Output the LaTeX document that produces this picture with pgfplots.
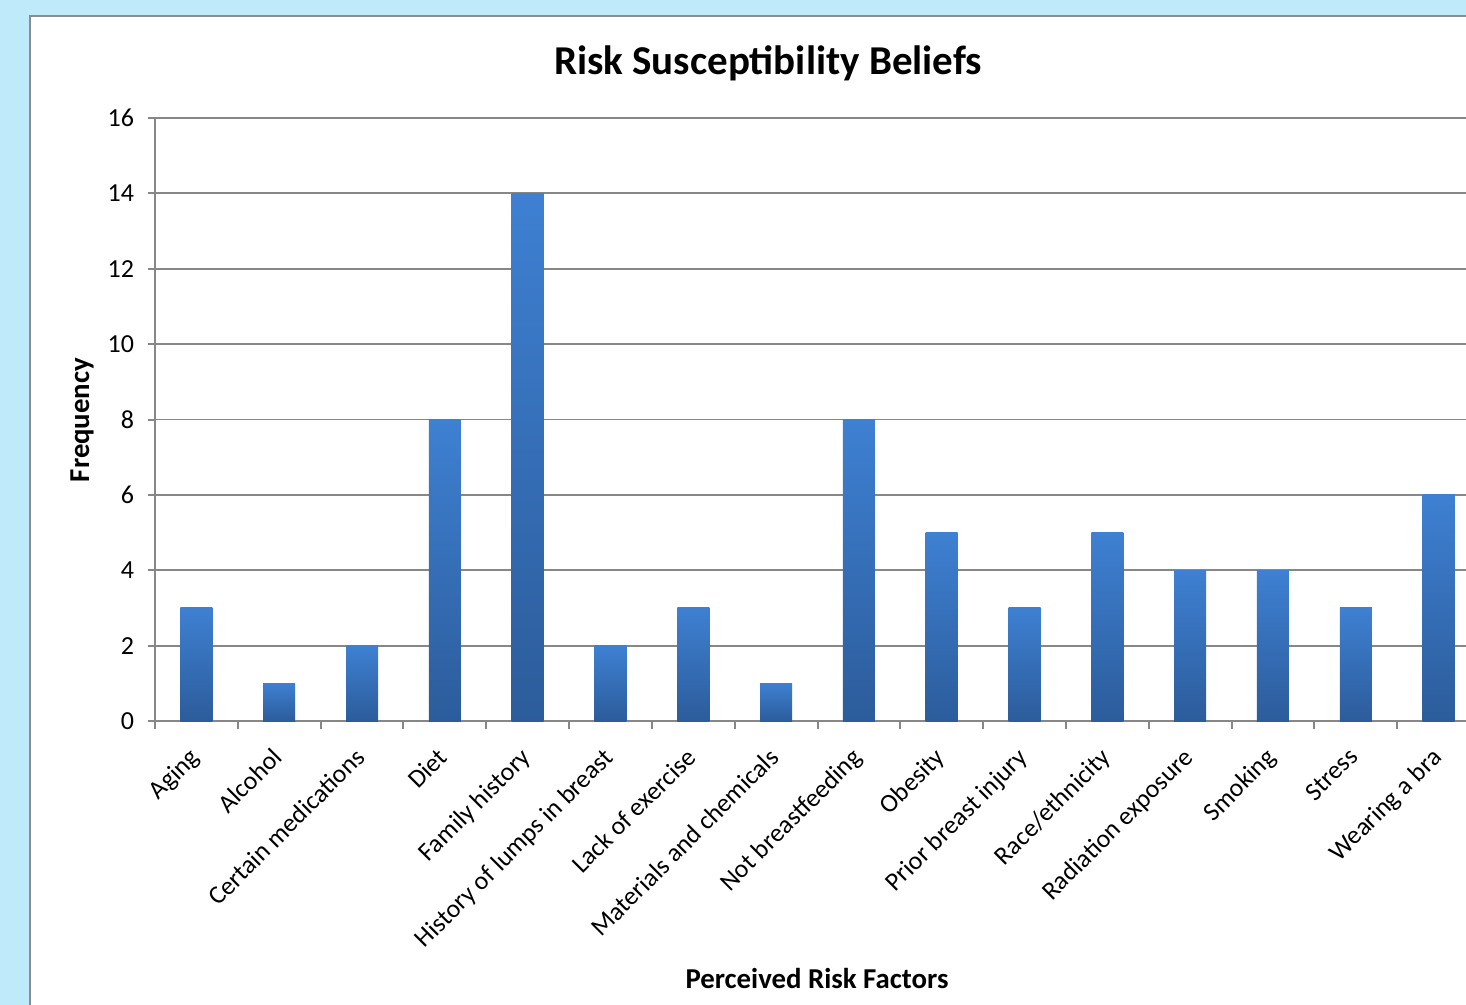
\documentclass[border=0pt]{standalone}
\usepackage{pgfplots}
\pgfplotsset{compat=1.18}
\usepackage{fontspec}
\setmainfont{Carlito}
\definecolor{bgblue}{RGB}{190,234,250}
\definecolor{framegray}{RGB}{140,140,140}
\definecolor{gridgray}{RGB}{135,135,135}
\definecolor{bartop}{RGB}{62,128,210}
\definecolor{barbot}{RGB}{44,92,155}
\begin{document}
\begin{tikzpicture}
\path[use as bounding box] (0,0) rectangle (733pt,-502.5pt);
\clip (0,0) rectangle (733pt,-502.5pt);
\begin{scope}[x=0.5pt,y=-0.5pt]
\fill[bgblue] (0,0) rectangle (1466,1005);
\fill[white] (30,16) rectangle (1500,1040);
\draw[framegray, line width=1.2pt] (30,1040) -- (30,16) -- (1500,16);
\node[font=\bfseries\fontsize{20.5}{24}\selectfont] at (768,63) {Risk Susceptibility Beliefs};
\node[font=\bfseries\fontsize{14.4}{17}\selectfont] at (817,978) {Perceived Risk Factors};
\node[font=\bfseries\fontsize{14.4}{17}\selectfont, rotate=90] at (82,420) {Frequency};
\end{scope}
\begin{axis}[
  at={(77.5pt,-360.5pt)}, anchor=south west,
  scale only axis, width=662.5pt, height=301.5pt,
  xmin=-0.5, xmax=15.5, ymin=0, ymax=16,
  axis x line*=bottom, axis y line*=left,
  axis line style={draw=gridgray, line width=1pt},
  ytick={0,2,...,16},
  ymajorgrids, grid style={draw=gridgray, line width=0.9pt},
  tick align=outside, major tick length=3.5pt,
  ytick style={draw=gridgray, line width=1pt},
  xtick={0,...,15},
  xtick style={draw=none},
  extra x ticks={-0.5,0.5,...,15.5},
  extra x tick labels={},
  extra x tick style={xtick style={draw=gridgray, line width=1pt}, major tick length=4pt, grid=none},
  xticklabels={Aging,Alcohol,Certain medications,Diet,Family history,History of lumps in breast,Lack of exercise,Materials and chemicals,Not breastfeeding,Obesity,Prior breast injury,Race/ethnicity,Radiation exposure,Smoking,Stress,Wearing a bra},
  xticklabel style={rotate=45, anchor=north east, font=\fontsize{12.9}{15}\selectfont, xshift=-6pt, yshift=0pt},
  yticklabel style={font=\fontsize{13}{15}\selectfont, xshift=-3.5pt},
  /pgf/number format/assume math mode=true,
  ybar, bar width=16pt,
  onebar/.style={ybar, bar shift=0pt, draw=none, top color=bartop, bottom color=barbot},
]
\addplot[onebar] coordinates {(0,3)};
\addplot[onebar] coordinates {(1,1)};
\addplot[onebar] coordinates {(2,2)};
\addplot[onebar] coordinates {(3,8)};
\addplot[onebar] coordinates {(4,14)};
\addplot[onebar] coordinates {(5,2)};
\addplot[onebar] coordinates {(6,3)};
\addplot[onebar] coordinates {(7,1)};
\addplot[onebar] coordinates {(8,8)};
\addplot[onebar] coordinates {(9,5)};
\addplot[onebar] coordinates {(10,3)};
\addplot[onebar] coordinates {(11,5)};
\addplot[onebar] coordinates {(12,4)};
\addplot[onebar] coordinates {(13,4)};
\addplot[onebar] coordinates {(14,3)};
\addplot[onebar] coordinates {(15,6)};
\end{axis}
\end{tikzpicture}
\end{document}
